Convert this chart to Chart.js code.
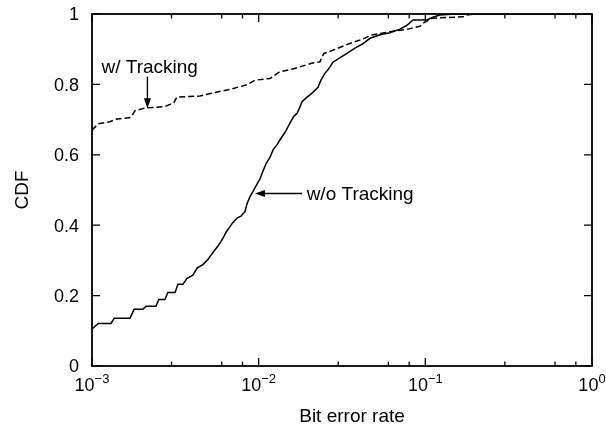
<!DOCTYPE html>
<html>
<head>
<meta charset="utf-8">
<script src="https://cdn.jsdelivr.net/npm/chart.js@4.4.0/dist/chart.umd.min.js"></script>
<style>
  html, body { margin: 0; padding: 0; background: #fff; }
  canvas { display: block; }
</style>
</head>
<body>
<canvas id="cdfChart" width="606" height="428"></canvas>
<script>
/* CDF of bit error rate, with and without tracking (log x axis) */

// --- data ---
const berNoTrack = [
  0.001, 0.00109, 0.00130, 0.00136, 0.00169, 0.00179, 0.00202, 0.00211, 0.00242, 0.00252,
  0.00274, 0.00285, 0.00315, 0.00328, 0.00351, 0.00372, 0.00403, 0.00427, 0.00463, 0.00497,
  0.00525, 0.00555, 0.00586, 0.00611, 0.00637, 0.00673, 0.00701, 0.00741, 0.00783, 0.00828,
  0.00851, 0.00887, 0.00925, 0.00964, 0.0102, 0.0106, 0.0111, 0.0117, 0.0122, 0.0129,
  0.0134, 0.0144, 0.0154, 0.0163, 0.0170, 0.0177, 0.0182, 0.0192, 0.0203, 0.0215,
  0.0227, 0.0237, 0.0250, 0.0261, 0.0279, 0.0308, 0.0339, 0.0378, 0.0417, 0.0466,
  0.0535, 0.0614, 0.0705, 0.0776, 0.0843, 0.102, 0.110, 0.122, 0.151, 1.0
];
const cdfNoTrack = [
  0.105, 0.121, 0.121, 0.136, 0.136, 0.161, 0.161, 0.170, 0.170, 0.189,
  0.189, 0.209, 0.209, 0.232, 0.232, 0.249, 0.258, 0.278, 0.288, 0.303,
  0.319, 0.334, 0.349, 0.363, 0.380, 0.396, 0.408, 0.420, 0.426, 0.439,
  0.461, 0.481, 0.496, 0.512, 0.532, 0.553, 0.576, 0.593, 0.614, 0.629,
  0.642, 0.664, 0.690, 0.710, 0.718, 0.736, 0.751, 0.761, 0.770, 0.781,
  0.792, 0.813, 0.832, 0.842, 0.863, 0.876, 0.888, 0.903, 0.914, 0.931,
  0.941, 0.947, 0.957, 0.968, 0.983, 0.983, 0.990, 0.997, 1.0, 1.0
];

const berTrack = [
  0.001, 0.00109, 0.00128, 0.00139, 0.00171, 0.00181, 0.00208, 0.00274, 0.00310, 0.00323,
  0.00444, 0.00547, 0.00673, 0.00851, 0.00951, 0.0117, 0.0134, 0.0164, 0.0208, 0.0233,
  0.0246, 0.0286, 0.0355, 0.0417, 0.0474, 0.0638, 0.0787, 0.0928, 0.0978, 0.110,
  0.134, 0.168, 0.177, 0.198, 1.0
];
const cdfTrack = [
  0.670, 0.688, 0.694, 0.701, 0.706, 0.725, 0.733, 0.737, 0.748, 0.764,
  0.767, 0.777, 0.786, 0.799, 0.812, 0.817, 0.836, 0.845, 0.860, 0.864,
  0.888, 0.899, 0.917, 0.928, 0.940, 0.951, 0.957, 0.965, 0.975, 0.988,
  0.990, 0.992, 0.997, 1.0, 1.0
];

// --- axes ---
const xMajorTicks = [0.001, 0.01, 0.1, 1];
const xTickExponents = ['\u22123', '\u22122', '\u22121', '0'];
const xMinorSteps = [2, 3, 4, 5, 6, 7, 8, 9];
const yTicks = [0, 0.2, 0.4, 0.6, 0.8, 1];
const yTickLabels = ['0', '0.2', '0.4', '0.6', '0.8', '1'];

// --- annotations: [BER, CDF] anchors ---
const noteTrack = { text: 'w/ Tracking', textAt: [0.00114, 0.832], arrowFrom: [0.00215, 0.822], arrowTo: [0.00215, 0.732] };
const noteNoTrack = { text: 'w/o Tracking', textAt: [0.0194, 0.472], arrowFrom: [0.0182, 0.49], arrowTo: [0.0095, 0.49] };

const FONT = '"Liberation Sans", Arial, Helvetica, sans-serif';

function toPoints(xs, ys) { return xs.map((v, i) => ({ x: v, y: ys[i] })); }

function drawArrow(ctx, x0, y0, x1, y1) {
  const ang = Math.atan2(y1 - y0, x1 - x0), L = 10, W = 3.5;
  ctx.beginPath();
  ctx.moveTo(x0, y0); ctx.lineTo(x1 - Math.cos(ang) * L * 0.8, y1 - Math.sin(ang) * L * 0.8);
  ctx.stroke();
  ctx.beginPath();
  ctx.moveTo(x1, y1);
  ctx.lineTo(x1 - Math.cos(ang) * L - Math.sin(ang) * W, y1 - Math.sin(ang) * L + Math.cos(ang) * W);
  ctx.lineTo(x1 - Math.cos(ang) * L + Math.sin(ang) * W, y1 - Math.sin(ang) * L - Math.cos(ang) * W);
  ctx.closePath();
  ctx.fill();
}

const framePlugin = {
  id: 'frame',
  afterDatasetsDraw(chart) {
    const { ctx, chartArea: a, scales: { x, y } } = chart;
    ctx.save();
    ctx.strokeStyle = '#000';
    ctx.fillStyle = '#000';

    // box
    ctx.lineWidth = 1.8;
    ctx.strokeRect(a.left, a.top, a.right - a.left, a.bottom - a.top);

    // inward ticks
    ctx.lineWidth = 1.3;
    ctx.beginPath();
    x.ticks.forEach(t => {
      const px = x.getPixelForValue(t.value);
      const len = t.major ? 8 : 4.5;
      ctx.moveTo(px, a.bottom); ctx.lineTo(px, a.bottom - len);
      ctx.moveTo(px, a.top); ctx.lineTo(px, a.top + len);
    });
    yTicks.forEach(v => {
      const py = y.getPixelForValue(v);
      ctx.moveTo(a.left, py); ctx.lineTo(a.left + 8, py);
      ctx.moveTo(a.right, py); ctx.lineTo(a.right - 8, py);
    });
    ctx.stroke();

    // y tick labels
    ctx.font = '18px ' + FONT;
    ctx.textAlign = 'right';
    ctx.textBaseline = 'middle';
    yTicks.forEach((v, i) => ctx.fillText(yTickLabels[i], a.left - 13, y.getPixelForValue(v) + 1.5));

    // x tick labels: 10 with superscript exponent
    ctx.textAlign = 'left';
    ctx.textBaseline = 'alphabetic';
    xMajorTicks.forEach((v, i) => {
      const px = x.getPixelForValue(v);
      ctx.font = '18px ' + FONT;
      const wb = ctx.measureText('10').width;
      ctx.font = '13px ' + FONT;
      const we = ctx.measureText(xTickExponents[i]).width;
      const left = px - (wb + we) / 2;
      ctx.font = '18px ' + FONT;
      ctx.fillText('10', left, a.bottom + 25);
      ctx.font = '13px ' + FONT;
      ctx.fillText(xTickExponents[i], left + wb, a.bottom + 17);
    });

    // axis titles
    ctx.font = '19px ' + FONT;
    ctx.textAlign = 'center';
    ctx.fillText('Bit error rate', 352, a.bottom + 56);
    ctx.save();
    ctx.translate(28, (a.top + a.bottom) / 2);
    ctx.rotate(-Math.PI / 2);
    ctx.fillText('CDF', 0, 0);
    ctx.restore();

    // annotations
    ctx.textAlign = 'left';
    ctx.lineWidth = 1.4;
    [noteTrack, noteNoTrack].forEach(n => {
      ctx.fillText(n.text, x.getPixelForValue(n.textAt[0]), y.getPixelForValue(n.textAt[1]));
      drawArrow(ctx,
        x.getPixelForValue(n.arrowFrom[0]), y.getPixelForValue(n.arrowFrom[1]),
        x.getPixelForValue(n.arrowTo[0]), y.getPixelForValue(n.arrowTo[1]));
    });
    ctx.restore();
  }
};

new Chart(document.getElementById('cdfChart'), {
  type: 'line',
  data: {
    datasets: [
      {
        label: 'w/o Tracking',
        data: toPoints(berNoTrack, cdfNoTrack),
        borderColor: '#000', borderWidth: 1.5,
        pointRadius: 0, fill: false, tension: 0
      },
      {
        label: 'w/ Tracking',
        data: toPoints(berTrack, cdfTrack),
        borderColor: '#000', borderWidth: 1.5, borderDash: [6, 3],
        pointRadius: 0, fill: false, tension: 0
      }
    ]
  },
  options: {
    responsive: false,
    animation: false,
    devicePixelRatio: 1,
    layout: { padding: { left: 92, right: 14, top: 14, bottom: 62 } },
    plugins: { legend: { display: false }, tooltip: { enabled: false } },
    scales: {
      x: {
        type: 'logarithmic', min: 0.001, max: 1, display: false,
        afterBuildTicks: axis => {
          const ticks = [];
          xMajorTicks.forEach((d, i) => {
            ticks.push({ value: d, major: true });
            if (i < xMajorTicks.length - 1) xMinorSteps.forEach(m => ticks.push({ value: d * m, major: false }));
          });
          axis.ticks = ticks;
        }
      },
      y: {
        type: 'linear', min: 0, max: 1, display: false,
        ticks: { stepSize: 0.2 }
      }
    }
  },
  plugins: [framePlugin]
});
</script>
</body>
</html>
